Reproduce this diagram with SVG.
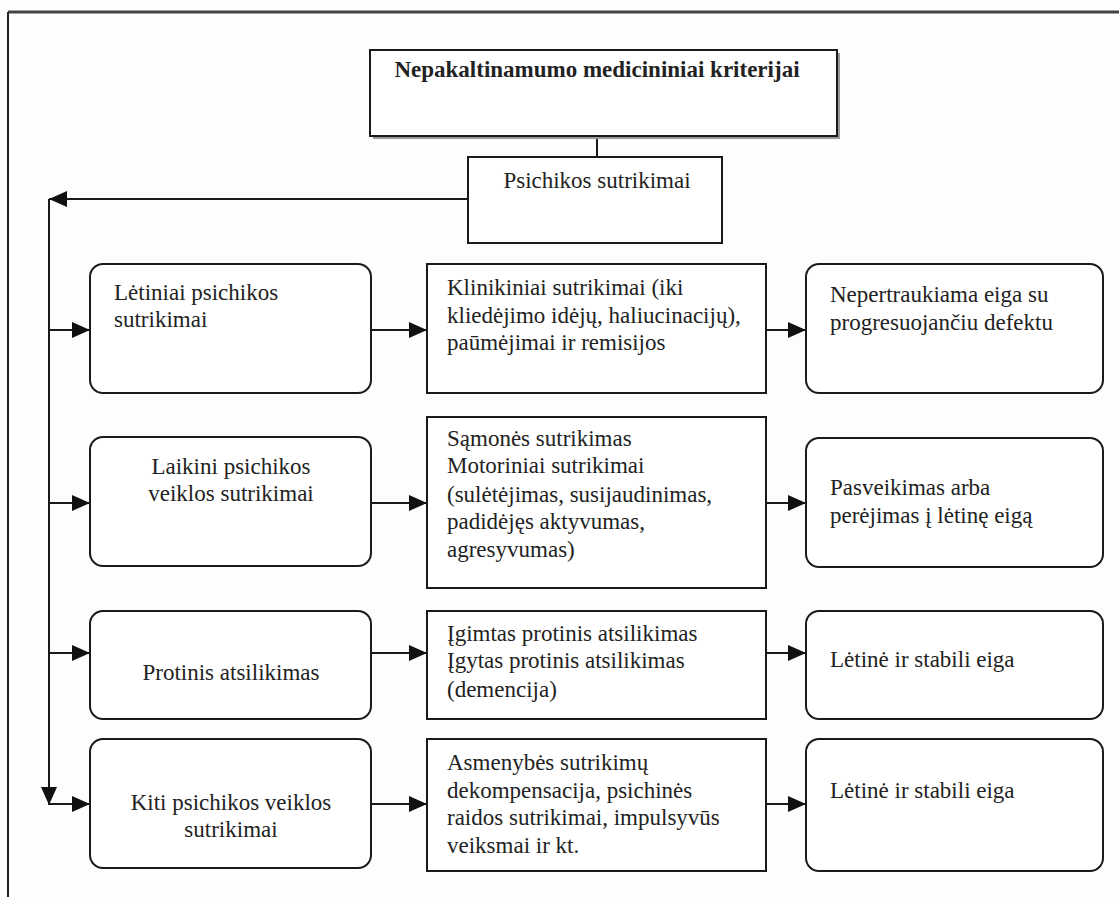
<svg xmlns="http://www.w3.org/2000/svg" width="1119" height="897" viewBox="0 0 1119 897">
<style>
.box{fill:#fff;stroke:#1a1a1a;stroke-width:2}
.rbox{fill:#fff;stroke:#1a1a1a;stroke-width:2}
.t{font-family:"Liberation Serif","Times New Roman",serif;font-size:23px;fill:#222}
.c{text-anchor:middle}
.b{font-weight:bold;font-size:23px}
.ln{fill:none;stroke:#1a1a1a;stroke-width:2}
</style>
<defs>
<marker id="ah" viewBox="0 0 18 16" refX="18" refY="8" markerWidth="18" markerHeight="16" markerUnits="userSpaceOnUse" orient="auto">
<path d="M0,0 L18,8 L0,16 Z" fill="#111"/>
</marker>
</defs>
<rect width="1119" height="897" fill="#fdfdfd"/>
<g id="frame">
<line x1="8" y1="12" x2="1119" y2="12" stroke="#444" stroke-width="3"/>
<line x1="8" y1="12" x2="8" y2="897" stroke="#222" stroke-width="2"/>
</g>
<g id="connectors">
<line class="ln" x1="597" y1="136" x2="597" y2="157"/>
<line class="ln" x1="468" y1="199" x2="49" y2="199" marker-end="url(#ah)"/>
<line class="ln" x1="49" y1="199" x2="49" y2="805" marker-end="url(#ah)"/>
<line class="ln" x1="49" y1="330" x2="90" y2="330" marker-end="url(#ah)"/>
<line class="ln" x1="49" y1="503" x2="90" y2="503" marker-end="url(#ah)"/>
<line class="ln" x1="49" y1="653" x2="90" y2="653" marker-end="url(#ah)"/>
<line class="ln" x1="49" y1="804" x2="90" y2="804" marker-end="url(#ah)"/>
<line class="ln" x1="371" y1="330" x2="427" y2="330" marker-end="url(#ah)"/>
<line class="ln" x1="371" y1="503" x2="427" y2="503" marker-end="url(#ah)"/>
<line class="ln" x1="371" y1="653" x2="427" y2="653" marker-end="url(#ah)"/>
<line class="ln" x1="371" y1="804" x2="427" y2="804" marker-end="url(#ah)"/>
<line class="ln" x1="766" y1="330" x2="806" y2="330" marker-end="url(#ah)"/>
<line class="ln" x1="766" y1="503" x2="806" y2="503" marker-end="url(#ah)"/>
<line class="ln" x1="766" y1="653" x2="806" y2="653" marker-end="url(#ah)"/>
<line class="ln" x1="766" y1="804" x2="806" y2="804" marker-end="url(#ah)"/>
</g>
<g id="title">
<rect x="373" y="53" width="467" height="86" fill="#999"/>
<rect class="box" x="370" y="50" width="467" height="86"/>
<text class="t b c" x="597" y="77">Nepakaltinamumo medicininiai kriterijai</text>
</g>
<g id="psichikos">
<rect class="box" x="468" y="157" width="254" height="86"/>
<text class="t c" x="597" y="188">Psichikos sutrikimai</text>
</g>
<g id="letiniai">
<rect class="rbox" x="90" y="264" width="281" height="129" rx="13"/>
<text class="t" x="114" y="300">Lėtiniai psichikos</text>
<text class="t" x="114" y="327">sutrikimai</text>
</g>
<g id="klinikiniai">
<rect class="box" x="427" y="264" width="339" height="129"/>
<text class="t" x="447" y="295">Klinikiniai sutrikimai (iki</text>
<text class="t" x="447" y="323">kliedėjimo idėjų, haliucinacijų),</text>
<text class="t" x="447" y="350">paūmėjimai ir remisijos</text>
</g>
<g id="nepertraukiama">
<rect class="rbox" x="806" y="264" width="297" height="129" rx="13"/>
<text class="t" x="830" y="302">Nepertraukiama eiga su</text>
<text class="t" x="830" y="330">progresuojančiu defektu</text>
</g>
<g id="laikini">
<rect class="rbox" x="90" y="437" width="281" height="129" rx="13"/>
<text class="t c" x="231" y="474">Laikini psichikos</text>
<text class="t c" x="231" y="501">veiklos sutrikimai</text>
</g>
<g id="samones">
<rect class="box" x="427" y="417" width="339" height="171"/>
<text class="t" x="447" y="446">Sąmonės sutrikimas</text>
<text class="t" x="447" y="473">Motoriniai sutrikimai</text>
<text class="t" x="447" y="502">(sulėtėjimas, susijaudinimas,</text>
<text class="t" x="447" y="529">padidėjęs aktyvumas,</text>
<text class="t" x="447" y="557">agresyvumas)</text>
</g>
<g id="pasveikimas">
<rect class="rbox" x="806" y="438" width="297" height="129" rx="13"/>
<text class="t" x="830" y="495">Pasveikimas arba</text>
<text class="t" x="830" y="523">perėjimas į lėtinę eigą</text>
</g>
<g id="protinis">
<rect class="rbox" x="90" y="611" width="281" height="108" rx="13"/>
<text class="t c" x="231" y="680">Protinis atsilikimas</text>
</g>
<g id="igimtas">
<rect class="box" x="427" y="611" width="339" height="108"/>
<text class="t" x="447" y="641">Įgimtas protinis atsilikimas</text>
<text class="t" x="447" y="668">Įgytas protinis atsilikimas</text>
<text class="t" x="447" y="697">(demencija)</text>
</g>
<g id="letine1">
<rect class="rbox" x="806" y="611" width="297" height="108" rx="13"/>
<text class="t" x="830" y="667">Lėtinė ir stabili eiga</text>
</g>
<g id="kiti">
<rect class="rbox" x="90" y="739" width="281" height="129" rx="13"/>
<text class="t c" x="231" y="810">Kiti psichikos veiklos</text>
<text class="t c" x="231" y="837">sutrikimai</text>
</g>
<g id="asmenybes">
<rect class="box" x="427" y="739" width="339" height="132"/>
<text class="t" x="447" y="770">Asmenybės sutrikimų</text>
<text class="t" x="447" y="798">dekompensacija, psichinės</text>
<text class="t" x="447" y="825">raidos sutrikimai, impulsyvūs</text>
<text class="t" x="447" y="853">veiksmai ir kt.</text>
</g>
<g id="letine2">
<rect class="rbox" x="806" y="739" width="297" height="132" rx="13"/>
<text class="t" x="830" y="798">Lėtinė ir stabili eiga</text>
</g>
</svg>
